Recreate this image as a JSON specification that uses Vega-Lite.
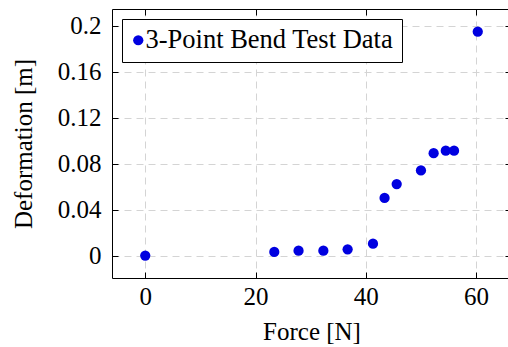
{
  "$schema": "https://vega.github.io/schema/vega-lite/v6.json",
  "width": 399,
  "height": 269,
  "autosize": {"type": "none"},
  "padding": {"left": 112, "top": 9, "right": -3, "bottom": 69},
  "background": "white",
  "config": {
    "view": {"stroke": null},
    "font": "Liberation Serif, serif",
    "axis": {
      "labelFont": "Liberation Serif, serif",
      "titleFont": "Liberation Serif, serif",
      "labelFontSize": 25,
      "titleFontSize": 25,
      "titleFontWeight": "normal",
      "labelColor": "black",
      "titleColor": "black",
      "domainColor": "black",
      "domainWidth": 1,
      "tickColor": "black",
      "tickWidth": 1,
      "tickSize": -6,
      "gridColor": "#d4d4d4",
      "gridDash": [7, 5],
      "gridWidth": 1,
      "gridOpacity": 1
    },
    "legend": {"labelFont": "Liberation Serif, serif", "labelLimit": 0}
  },
  "data": {
    "values": [
      {"force": 0, "deformation": 0},
      {"force": 23.4, "deformation": 0.0032},
      {"force": 27.8, "deformation": 0.0043},
      {"force": 32.3, "deformation": 0.0043},
      {"force": 36.7, "deformation": 0.0055},
      {"force": 41.3, "deformation": 0.0104},
      {"force": 43.4, "deformation": 0.0501},
      {"force": 45.6, "deformation": 0.0622},
      {"force": 50.0, "deformation": 0.0741},
      {"force": 52.3, "deformation": 0.0891},
      {"force": 54.5, "deformation": 0.0912},
      {"force": 56.0, "deformation": 0.0912},
      {"force": 60.3, "deformation": 0.1948}
    ]
  },
  "layer": [
    {
      "mark": {"type": "point", "filled": true, "size": 105, "opacity": 1, "shape": "circle"},
      "encoding": {
        "x": {
          "field": "force",
          "type": "quantitative",
          "scale": {"domain": [-6.03, 66.33], "nice": false, "zero": false},
          "axis": {
            "orient": "bottom",
            "values": [0, 20, 40, 60],
            "title": "Force [N]",
            "labelFont": "Liberation Serif, serif",
            "titleFont": "Liberation Serif, serif",
            "labelPadding": 12,
            "titlePadding": 10,
            "grid": true
          }
        },
        "y": {
          "field": "deformation",
          "type": "quantitative",
          "scale": {"domain": [-0.0195, 0.2145], "nice": false, "zero": false},
          "axis": {
            "orient": "left",
            "values": [0, 0.04, 0.08, 0.12, 0.16, 0.2],
            "format": "~g",
            "title": "Deformation [m]",
            "labelFont": "Liberation Serif, serif",
            "titleFont": "Liberation Serif, serif",
            "labelPadding": 17,
            "titlePadding": 21,
            "grid": true
          }
        },
        "color": {
          "datum": "3-Point Bend Test Data",
          "scale": {"range": ["#0000e0"]},
          "legend": {
            "title": null,
            "orient": "top-left",
            "offset": 10,
            "padding": 8,
            "strokeColor": "black",
            "fillColor": "white",
            "cornerRadius": 0,
            "labelFont": "Liberation Serif, serif",
            "labelFontSize": 26.5,
            "labelColor": "black",
            "labelOffset": -6,
            "labelLimit": 0,
            "symbolOffset": -5,
            "symbolType": "circle",
            "symbolSize": 105,
            "symbolStrokeWidth": 0
          }
        }
      }
    },
    {
      "mark": {"type": "point", "opacity": 0},
      "encoding": {
        "x": {
          "field": "force",
          "type": "quantitative",
          "axis": {
            "orient": "top",
            "values": [0, 20, 40, 60],
            "labels": false,
            "title": null,
            "grid": false
          }
        },
        "y": {
          "field": "deformation",
          "type": "quantitative",
          "axis": {
            "orient": "right",
            "values": [0, 0.04, 0.08, 0.12, 0.16, 0.2],
            "labels": false,
            "title": null,
            "grid": false,
            "domain": false
          }
        }
      }
    }
  ],
  "resolve": {"axis": {"x": "independent", "y": "independent"}}
}
